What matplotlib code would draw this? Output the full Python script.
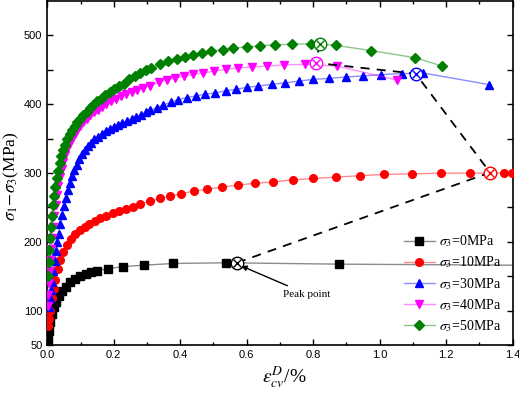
import numpy as np
import matplotlib
matplotlib.use('Agg')
import matplotlib.pyplot as plt
from matplotlib.ticker import FixedLocator, FixedFormatter, MultipleLocator

plt.rcParams['mathtext.fontset'] = 'stix'
plt.rcParams['font.family'] = 'Liberation Serif'

# confining pressures
labels = ['0MPa', '10MPa', '30MPa', '40MPa', '50MPa']
colors = ['#000000', '#ff0000', '#0000ff', '#ff00ff', '#008000']
markers = ['s', 'o', '^', 'v', 'D']

# strain (%) / deviatoric stress (MPa)
x0 = [0.002, 0.005, 0.009, 0.014, 0.020, 0.027, 0.035, 0.045, 0.056, 0.068, 0.082,
      0.098, 0.115, 0.132, 0.150, 0.184, 0.229, 0.291, 0.379, 0.538, 0.878, 1.40]
y0 = [57, 70, 83, 95, 105, 113, 121, 129, 135, 141, 146,
      150, 153, 156, 158, 161, 164, 166, 168.5, 169.5, 167.5, 166]

x10 = [0.002, 0.005, 0.009, 0.014, 0.019, 0.024, 0.031, 0.039, 0.048, 0.059, 0.071,
       0.084, 0.098, 0.112, 0.127, 0.143, 0.160, 0.178, 0.197, 0.216, 0.236, 0.257,
       0.280, 0.309, 0.339, 0.369, 0.402, 0.441, 0.481, 0.525, 0.574, 0.625, 0.679,
       0.739, 0.800, 0.868, 0.940, 1.014, 1.096, 1.183, 1.272, 1.375, 1.397]
y10 = [78, 88, 100, 118, 132, 145, 160, 173, 185, 196, 204,
       211, 217, 222, 226, 230, 234, 238, 242, 245, 248, 251,
       255, 259, 263, 266, 270, 273.5, 276.5, 279.5, 282.5, 285, 287, 290, 292, 294,
       296, 298, 298.8, 299.7, 299.8, 299.8, 300]

x30 = [0.004, 0.007, 0.010, 0.014, 0.018, 0.022, 0.026, 0.030, 0.034, 0.039, 0.044,
       0.049, 0.055, 0.061, 0.067, 0.074, 0.081, 0.088, 0.096, 0.104, 0.113, 0.122,
       0.132, 0.142, 0.153, 0.164, 0.176, 0.188, 0.200, 0.213, 0.226, 0.240, 0.254,
       0.268, 0.283, 0.296, 0.309, 0.329, 0.349, 0.371, 0.394, 0.419, 0.447, 0.474,
       0.504, 0.538, 0.568, 0.600, 0.635, 0.675, 0.715, 0.758, 0.800, 0.847, 0.898,
       0.949, 1.004, 1.066, 1.131, 1.330]
y30 = [105, 118, 130, 142, 158, 172, 186, 199, 212, 226, 239,
       252, 264, 275, 286, 296, 304, 312, 320, 327, 333, 339,
       344, 349, 353, 357, 361, 364, 367, 370, 373, 376, 379,
       382, 385, 388, 391, 395, 399, 402.8, 406.7, 409.6, 412, 414.4,
       416.3, 419.5, 421.6, 424.5, 426.4, 428.9, 430.8, 433.7, 436, 437.5, 439.5,
       441, 443, 444.4, 445.3, 428.4]

x40 = [0.001, 0.003, 0.005, 0.007, 0.009, 0.012, 0.015, 0.018, 0.021, 0.025, 0.029,
       0.033, 0.038, 0.043, 0.048, 0.054, 0.060, 0.067, 0.074, 0.082, 0.090, 0.099,
       0.108, 0.118, 0.129, 0.140, 0.152, 0.165, 0.178, 0.192, 0.207, 0.222, 0.238,
       0.254, 0.270, 0.289, 0.309, 0.336, 0.359, 0.384, 0.411, 0.439, 0.469, 0.502,
       0.538, 0.573, 0.615, 0.660, 0.713, 0.775, 0.871, 1.051]
y40 = [106, 122, 140, 157, 173, 190, 206, 222, 238, 254, 268,
       281, 294, 306, 316, 326, 335, 343, 350, 357, 363, 369,
       374, 379, 384, 388, 392, 396, 400, 404, 408, 412, 415,
       418, 421, 423.5, 427, 432, 435.7, 438, 440.5, 443.4, 445.3, 448,
       450.7, 452.6, 454, 455.4, 457, 458, 455.5, 435]

x50 = [0.002, 0.004, 0.006, 0.008, 0.011, 0.014, 0.017, 0.020, 0.024, 0.028, 0.032,
       0.037, 0.042, 0.048, 0.054, 0.060, 0.067, 0.074, 0.082, 0.090, 0.099, 0.108,
       0.118, 0.128, 0.139, 0.150, 0.162, 0.175, 0.188, 0.202, 0.216, 0.231, 0.247,
       0.263, 0.280, 0.296, 0.313, 0.339, 0.364, 0.389, 0.414, 0.437, 0.464, 0.494,
       0.528, 0.560, 0.600, 0.640, 0.685, 0.735, 0.793, 0.868, 0.973, 1.106, 1.188]
y50 = [150, 170, 188, 205, 222, 238, 253, 266, 280, 292, 303,
       314, 324, 333, 341, 349, 356, 362, 368, 374, 379, 384,
       389, 394, 399, 404, 408, 413, 418, 422, 426, 430, 436,
       441, 445, 449, 453, 458, 462.5, 466, 469, 472, 474.5, 477,
       479, 481.6, 483, 485, 486.5, 487, 488, 485.5, 478, 467.6, 455.5]

xs = [x0, x10, x30, x40, x50]
ys = [y0, y10, y30, y40, y50]

# peak points, joined by the dashed line (green -> magenta -> blue -> red -> black)
peak_x = [0.572, 1.332, 1.108, 0.807, 0.820]
peak_y = [169.8, 300.7, 444.4, 460, 488]
path_order = [4, 3, 2, 1, 0]

fig = plt.figure(figsize=(5.19, 3.95), dpi=100)
ax = fig.add_axes([0.0911, 0.1266, 0.8967, 0.8709])

for i in range(5):
    c = matplotlib.colors.to_rgba(colors[i])
    line_c = (c[0], c[1], c[2], 0.45)
    n = len(xs[i])
    mev = list(range(n - 1)) if i == 0 else None
    ax.plot(xs[i], ys[i], color=line_c, lw=1.0, marker=markers[i],
            markersize=5.5 if markers[i] != 'D' else 5, markerfacecolor=colors[i],
            markeredgecolor=colors[i], markevery=mev,
            label=r'$\sigma_{\mathit{3}}$=' + labels[i], zorder=3)

ax.plot([peak_x[k] for k in path_order], [peak_y[k] for k in path_order],
        color='black', lw=1.3, ls=(0, (5, 4)), zorder=4)

for i in range(5):
    ax.plot(peak_x[i], peak_y[i], marker='o', markersize=9, markerfacecolor='white',
            markeredgecolor=colors[i], markeredgewidth=1.0, zorder=5)
    ax.plot(peak_x[i], peak_y[i], marker='x', markersize=5.5, color=colors[i],
            markeredgewidth=1.0, zorder=6)

ax.annotate('Peak point', xy=(0.583, 165), xytext=(0.71, 124),
            fontsize=8, family='Liberation Serif', ha='left', va='center',
            arrowprops=dict(arrowstyle='-|>', color='black', lw=1.0,
                            shrinkA=2, shrinkB=0, mutation_scale=8))

ax.set_xlim(0, 1.4)
ax.set_ylim(50, 550)
ax.xaxis.set_major_locator(MultipleLocator(0.2))
ax.xaxis.set_minor_locator(MultipleLocator(0.1))
yt = [50, 100, 150, 200, 250, 300, 350, 400, 450, 500]
ylabs = ['50', '100', '', '200', '', '300', '', '400', '', '500']
ax.yaxis.set_major_locator(FixedLocator(yt))
ax.yaxis.set_major_formatter(FixedFormatter(ylabs))
ax.tick_params(axis='both', which='both', direction='in', top=True, right=True,
               labelsize=8, width=1.0)
ax.tick_params(which='major', length=4)
ax.tick_params(which='minor', length=2.5)
for lab in ax.get_xticklabels() + ax.get_yticklabels():
    lab.set_family('Liberation Sans')
for s in ax.spines.values():
    s.set_linewidth(1.2)

ax.set_xlabel(r'$\varepsilon_{cv}^{D}$/%', fontsize=14)
ax.xaxis.set_label_coords(0.51, -0.055)
ax.set_ylabel(r'$\sigma_{\mathit{1}}\!-\!\sigma_{\mathit{3}}$(MPa)', fontsize=12.5)
ax.yaxis.set_label_coords(-0.057, 0.49)

ax.legend(loc='upper left', bbox_to_anchor=(0.755, 0.34), frameon=False,
          fontsize=10, handlelength=2.2, handletextpad=0.3, labelspacing=0.38,
          borderaxespad=0)

fig.savefig('out.png', dpi=100)
